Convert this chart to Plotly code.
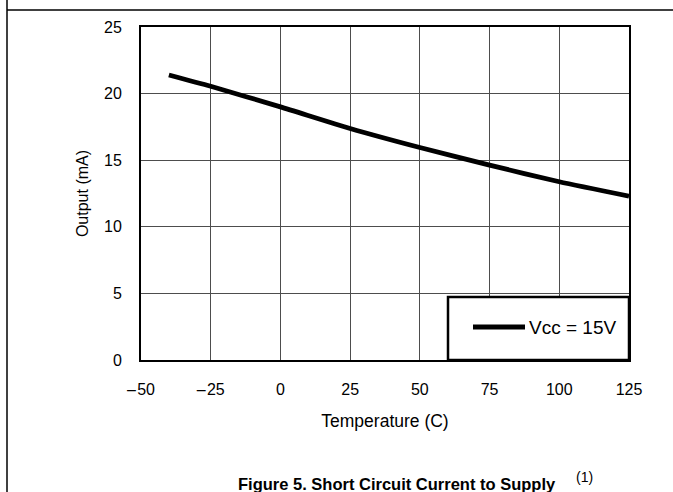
import plotly.graph_objects as go

# Data
temperature_c = [-40, -25, 0, 25, 50, 75, 100, 125]
output_ma = [21.4, 20.55, 19.0, 17.38, 15.95, 14.63, 13.38, 12.3]
series_name = "Vcc = 15V"

x_tick_vals = [-50, -25, 0, 25, 50, 75, 100, 125]
x_tick_text = ["\u2013\u200a50", "\u2013\u200a25", "0", "25", "50", "75", "100", "125"]
y_tick_vals = [0, 5, 10, 15, 20, 25]

W, H = 673, 492
L, R, T, B = 141, 44, 27, 132
pw, ph = W - L - R, H - T - B

def px(xp):
    return (xp - L) / pw

def py(yp):
    return (H - B - yp) / ph

FONT = "Arial, Liberation Sans, sans-serif"

fig = go.Figure()
fig.add_trace(go.Scatter(
    x=temperature_c, y=output_ma, mode="lines", name=series_name,
    line=dict(color="black", width=4.8, shape="spline", smoothing=0.6),
    showlegend=False, hoverinfo="skip",
))

axis_common = dict(
    showline=True, linecolor="black", linewidth=2, mirror=True,
    showgrid=True, gridcolor="#4d4d4d", gridwidth=1,
    zeroline=False, ticks="", tickfont=dict(family=FONT, size=16, color="black"),
)

fig.update_xaxes(
    range=[-50, 125], tickvals=x_tick_vals, ticktext=x_tick_text,
    title=dict(text="Temperature (C)", font=dict(family=FONT, size=17.5, color="black"), standoff=18),
    ticklabelstandoff=14, **axis_common,
)
fig.update_yaxes(
    range=[0, 25], tickvals=y_tick_vals,
    title=dict(text="Output (mA)", font=dict(family=FONT, size=16, color="black"), standoff=11),
    ticklabelstandoff=14, **axis_common,
)

shapes = [
    # legend box (covers grid like the reference)
    dict(type="rect", xref="paper", yref="paper",
         x0=px(448), x1=1.0, y0=0.0, y1=py(297),
         line=dict(color="black", width=2.5), fillcolor="white", layer="above"),
    # legend key line
    dict(type="line", xref="paper", yref="paper",
         x0=px(473), x1=px(525), y0=py(327), y1=py(327),
         line=dict(color="black", width=4.8), layer="above"),
    # page border lines
    dict(type="line", xref="paper", yref="paper",
         x0=px(7), x1=px(7), y0=py(H + 5), y1=py(-5),
         line=dict(color="black", width=1.5)),
    dict(type="line", xref="paper", yref="paper",
         x0=px(7), x1=px(W + 5), y0=py(10), y1=py(10),
         line=dict(color="black", width=1.5)),
]

annotations = [
    dict(xref="paper", yref="paper", x=px(527), y=py(327), xanchor="left", yanchor="middle",
         showarrow=False, text=series_name,
         font=dict(family=FONT, size=19, color="black")),
    dict(xref="paper", yref="paper", x=px(236), y=py(484), xanchor="left", yanchor="middle",
         showarrow=False,
         text="<b>Figure 5. Short Circuit Current to Supply</b>",
         font=dict(family=FONT, size=16.5, color="black")),
    dict(xref="paper", yref="paper", x=px(574), y=py(477), xanchor="left", yanchor="middle",
         showarrow=False, text="(1)",
         font=dict(family=FONT, size=14, color="black")),
]

fig.update_layout(
    width=W, height=H,
    margin=dict(l=L, r=R, t=T, b=B),
    paper_bgcolor="white", plot_bgcolor="white",
    shapes=shapes, annotations=annotations,
    showlegend=False, hovermode=False,
)

fig.write_html("out.html", config={"displayModeBar": False},
               post_script="document.body.style.margin='0px';")
